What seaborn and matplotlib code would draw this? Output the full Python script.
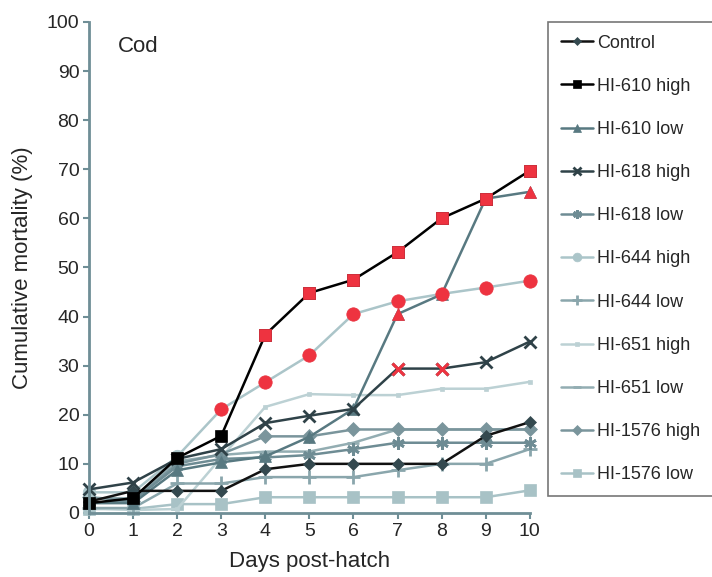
#!/usr/bin/env python3
import matplotlib

matplotlib.use("Agg")

import matplotlib.pyplot as plt
import numpy as np
import pandas as pd
import seaborn as sns

# ---- data ----
days = list(range(11))

series_names = [
    "Control", "HI-610 high", "HI-610 low", "HI-618 high", "HI-618 low",
    "HI-644 high", "HI-644 low", "HI-651 high", "HI-651 low",
    "HI-1576 high", "HI-1576 low",
]

control = [2.3, 4.5, 4.5, 4.5, 8.9, 10.0, 10.0, 10.0, 10.0, 15.7, 18.5]
hi610_high = [2.0, 3.0, 11.2, 15.7, 36.3, 44.8, 47.5, 53.1, 60.0, 64.0, 69.7]
hi610_low = [2.0, 2.0, 8.7, 10.3, 11.5, 15.5, 21.2, 40.5, 44.5, 64.0, 65.4]
hi618_high = [4.8, 6.2, 11.0, 13.0, 18.3, 19.8, 21.2, 29.4, 29.4, 30.7, 34.9]
hi618_low = [2.0, 2.5, 9.5, 11.0, 11.3, 11.8, 13.0, 14.3, 14.3, 14.3, 14.3]
hi644_high = [4.2, 4.2, 11.5, 21.1, 26.6, 32.1, 40.5, 43.1, 44.6, 45.9, 47.3]
hi644_low = [1.0, 1.0, 6.0, 6.0, 7.3, 7.3, 7.3, 8.7, 10.0, 10.0, 13.0]
hi651_high = [1.0, 0.6, 0.8, 11.3, 21.6, 24.2, 24.0, 24.0, 25.3, 25.3, 26.7]
hi651_low = [3.0, 3.0, 10.5, 11.8, 12.5, 12.5, 14.3, 17.0, 17.0, 17.0, 17.0]
hi1576_high = [3.2, 2.5, 10.0, 12.0, 15.6, 15.6, 17.0, 17.0, 17.0, 17.0, 17.0]
hi1576_low = [0.8, 0.8, 1.8, 1.8, 3.2, 3.2, 3.2, 3.2, 3.2, 3.2, 4.6]

values = [
    control, hi610_high, hi610_low, hi618_high, hi618_low, hi644_high,
    hi644_low, hi651_high, hi651_low, hi1576_high, hi1576_low,
]

# days where the point is flagged (drawn red)
flagged = {
    "HI-610 high": [4, 5, 6, 7, 8, 9, 10],
    "HI-610 low": [7, 10],
    "HI-618 high": [7, 8],
    "HI-644 high": [3, 4, 5, 6, 7, 8, 9, 10],
}

# ---- styles ----
line_colors = {
    "Control": "#111111",
    "HI-610 high": "#000000",
    "HI-610 low": "#587981",
    "HI-618 high": "#2f4248",
    "HI-618 low": "#6e8c94",
    "HI-644 high": "#abc5c9",
    "HI-644 low": "#8aa6ac",
    "HI-651 high": "#bcd1d4",
    "HI-651 low": "#93adb2",
    "HI-1576 high": "#7a959c",
    "HI-1576 low": "#a8c2c6",
}
marker_colors = dict(line_colors, **{"Control": "#34494f"})
markers = {
    "Control": "D",
    "HI-610 high": "s",
    "HI-610 low": "^",
    "HI-618 high": "x",
    "HI-618 low": (6, 2, 0),
    "HI-644 high": "o",
    "HI-644 low": "+",
    "HI-651 high": "s",
    "HI-651 low": "_",
    "HI-1576 high": "D",
    "HI-1576 low": "s",
}
marker_sizes = {
    "Control": 6, "HI-610 high": 8, "HI-610 low": 8, "HI-618 high": 8,
    "HI-618 low": 9, "HI-644 high": 9, "HI-644 low": 10, "HI-651 high": 3.5,
    "HI-651 low": 8, "HI-1576 high": 7, "HI-1576 low": 8,
}
RED = "#ee3340"

sns.set_theme(style="ticks")
plt.rcParams["font.family"] = ["Liberation Sans", "DejaVu Sans"]

df = pd.DataFrame(
    [(n, d, v) for n, vals in zip(series_names, values) for d, v in zip(days, vals)],
    columns=["series", "day", "mortality"],
)

fig = plt.figure(figsize=(7.12, 5.77), dpi=100)
ax = fig.add_axes([0.125, 0.111, 0.619, 0.851])

draw_order = [
    "HI-1576 low", "HI-651 high", "HI-644 low", "HI-651 low", "HI-1576 high",
    "HI-618 low", "HI-644 high", "HI-610 low", "HI-618 high", "Control", "HI-610 high",
]
handles = {}
for name in draw_order:
    sub = df[df["series"] == name]
    mk = markers[name]
    filled = mk not in ("x", "+", "_") and not isinstance(mk, tuple)
    sns.lineplot(
        data=sub, x="day", y="mortality", ax=ax,
        color=line_colors[name], lw=1.8,
        marker=mk, markersize=marker_sizes[name],
        markerfacecolor=marker_colors[name],
        markeredgecolor=marker_colors[name],
        markeredgewidth=0.5 if filled else 2.0,
        clip_on=False, label=name, legend=False,
    )
    handles[name] = ax.lines[-1]

# flagged points in red
for name, flag_days in flagged.items():
    sub = df[(df["series"] == name) & (df["day"].isin(flag_days))]
    mk = markers[name]
    filled = mk not in ("x", "+", "_") and not isinstance(mk, tuple)
    sns.scatterplot(
        data=sub, x="day", y="mortality", ax=ax,
        marker=mk, s=marker_sizes[name] ** 2 * 1.15,
        color=RED, edgecolor=RED if filled else None,
        linewidth=0.5 if filled else 2.2,
        clip_on=False, zorder=5, legend=False,
    )

ax.set_xlim(0, 10)
ax.set_ylim(0, 100)
ax.set_xticks(days)
ax.set_yticks(np.arange(0, 101, 10))
ax.set_xlabel("Days post-hatch", fontsize=16, labelpad=8)
ax.set_ylabel("Cumulative mortality (%)", fontsize=16, labelpad=10)
ax.tick_params(axis="both", labelsize=14, length=4, width=1.5, color="#6f8e96", pad=3)
sns.despine(ax=ax)
for side in ("left", "bottom"):
    ax.spines[side].set_color("#6f8e96")
    ax.spines[side].set_linewidth(2)

ax.text(0.065, 0.95, "Cod", transform=ax.transAxes, fontsize=16, va="center", ha="left")

leg = fig.legend(
    [handles[n] for n in series_names], series_names,
    loc="upper left", bbox_to_anchor=(0.770, 0.962),
    fontsize=13, frameon=True, fancybox=False, edgecolor="#555555",
    labelspacing=1.45, handlelength=1.8, handletextpad=0.2,
    borderpad=0.7, borderaxespad=0.0, markerscale=0.7,
)
leg.get_frame().set_linewidth(1.2)

plt.savefig("out.png", dpi=100)
plt.close()
